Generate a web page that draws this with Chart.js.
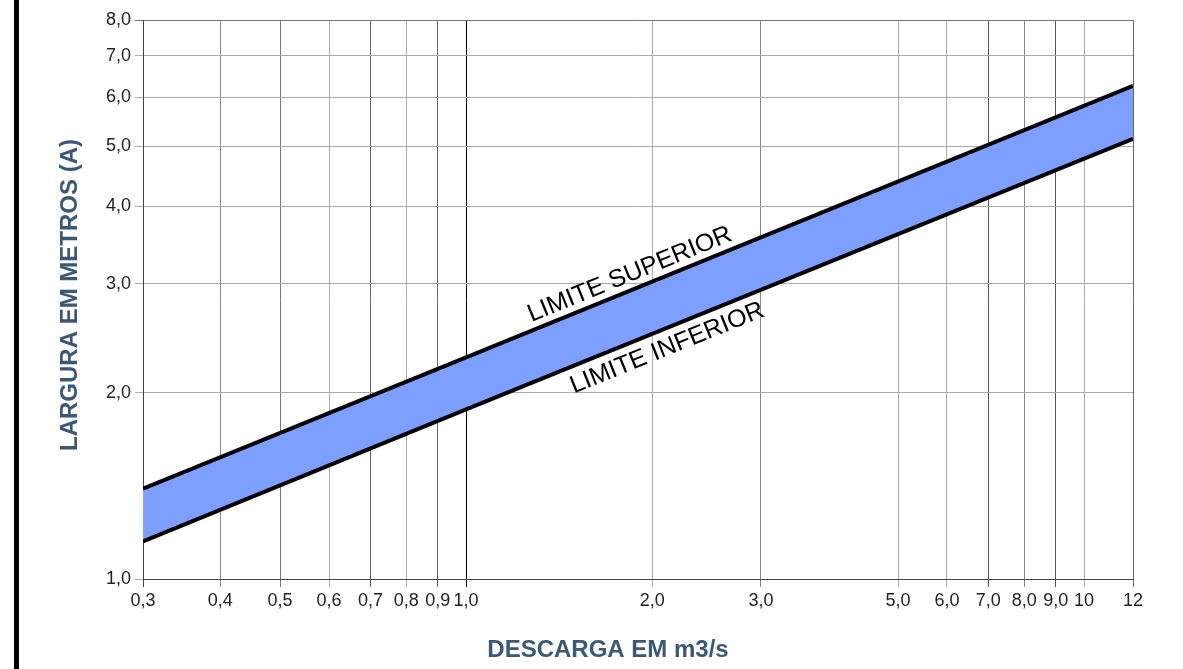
<!DOCTYPE html>
<html>
<head>
<meta charset="utf-8">
<script src="https://cdn.jsdelivr.net/npm/chart.js@4"></script>
<style>
  body { margin: 0; background: #fff; }
  #wrap { position: relative; width: 1183px; height: 669px; }
</style>
</head>
<body>
<div id="wrap"><canvas id="chart" width="1183" height="669"></canvas></div>
<script>
// data (log-log, straight lines)
const descarga = [0.3, 1.0, 12];
const limiteSuperior = [1.40, 2.28, 6.26];
const limiteInferior = [1.15, 1.88, 5.14];

const xTicks = [0.3, 0.4, 0.5, 0.6, 0.7, 0.8, 0.9, 1.0, 2, 3, 5, 6, 7, 8, 9, 10, 12];
const yTicks = [1, 2, 3, 4, 5, 6, 7, 8];

const xTitle = 'DESCARGA EM m3/s';
const yTitle = 'LARGURA EM METROS (A)';
const labelSup = 'LIMITE SUPERIOR';
const labelInf = 'LIMITE INFERIOR';

const FONT = '"Liberation Sans", Arial, sans-serif';

function fmt(v) {
  if (v >= 10) return String(Math.round(v));
  return v.toFixed(1).replace('.', ',');
}

// darker x grid lines like the original paper
const xGridDark = { 0.3: '#444', 0.4: '#888', 0.5: '#777', 0.7: '#666', 0.9: '#666', 1: '#000', 3: '#888', 7: '#555', 8: '#888', 9: '#555', 12: '#666' };

const extras = {
  id: 'extras',
  beforeDraw(chart) {
    const ctx = chart.ctx;
    ctx.save();
    ctx.fillStyle = '#000';
    ctx.fillRect(14, 0, 5, chart.height);
    ctx.restore();
  },
  afterDatasetsDraw(chart) {
    const ctx = chart.ctx;
    const xs = chart.scales.x, ys = chart.scales.y;

    function onLine(arr, xv) {
      // interpolate in log space between the read points
      for (let i = 0; i < descarga.length - 1; i++) {
        if (xv >= descarga[i] && xv <= descarga[i + 1]) {
          const t = (Math.log(xv) - Math.log(descarga[i])) / (Math.log(descarga[i + 1]) - Math.log(descarga[i]));
          return Math.exp(Math.log(arr[i]) + t * (Math.log(arr[i + 1]) - Math.log(arr[i])));
        }
      }
      return arr[arr.length - 1];
    }

    function drawLabel(text, arr, xv, offset) {
      const x1 = xs.getPixelForValue(descarga[1]), y1 = ys.getPixelForValue(arr[1]);
      const x2 = xs.getPixelForValue(descarga[2]), y2 = ys.getPixelForValue(arr[2]);
      const ang = Math.atan2(y2 - y1, x2 - x1);
      const px = xs.getPixelForValue(xv);
      const py = ys.getPixelForValue(onLine(arr, xv));
      ctx.save();
      ctx.translate(px, py);
      ctx.rotate(ang);
      ctx.font = '25px ' + FONT;
      ctx.fillStyle = '#000';
      ctx.textAlign = 'center';
      ctx.textBaseline = 'middle';
      ctx.fillText(text, 0, offset);
      ctx.restore();
    }

    drawLabel(labelSup, limiteSuperior, 1.88, -15);
    drawLabel(labelInf, limiteInferior, 2.06, 19);

    ctx.save();
    ctx.fillStyle = '#3b5878';
    ctx.font = 'bold 24px ' + FONT;
    ctx.textAlign = 'center';
    ctx.textBaseline = 'middle';
    ctx.fillText(xTitle, 608, 650);
    ctx.translate(70, 295);
    ctx.rotate(-Math.PI / 2);
    ctx.fillText(yTitle, 0, 0);
    ctx.restore();
  }
};

new Chart(document.getElementById('chart'), {
  type: 'line',
  data: {
    datasets: [
      {
        label: labelSup,
        data: descarga.map((x, i) => ({ x: x, y: limiteSuperior[i] })),
        borderColor: '#000',
        borderWidth: 4,
        pointRadius: 0,
        fill: false
      },
      {
        label: labelInf,
        data: descarga.map((x, i) => ({ x: x, y: limiteInferior[i] })),
        borderColor: '#000',
        borderWidth: 4,
        pointRadius: 0,
        fill: '-1',
        backgroundColor: '#7d9fff'
      }
    ]
  },
  options: {
    responsive: false,
    animation: false,
    layout: { padding: { top: 20, right: 50, left: 0, bottom: 0 } },
    plugins: {
      legend: { display: false },
      tooltip: { enabled: false }
    },
    scales: {
      x: {
        type: 'logarithmic',
        min: 0.3,
        max: 12,
        afterBuildTicks: s => { s.ticks = xTicks.map(v => ({ value: v })); },
        afterFit: s => { s.height = 90; },
        ticks: {
          autoSkip: false,
          maxRotation: 0,
          padding: 3,
          color: '#222',
          font: { family: FONT, size: 18 },
          callback: v => fmt(v)
        },
        grid: {
          color: c => xGridDark[c.tick && c.tick.value] || '#aaa',
          tickLength: 8,
          lineWidth: 1
        },
        border: { color: '#444', width: 1 }
      },
      y: {
        type: 'logarithmic',
        min: 1,
        max: 8,
        afterBuildTicks: s => { s.ticks = yTicks.map(v => ({ value: v })); },
        afterFit: s => { s.width = 143; },
        ticks: {
          autoSkip: false,
          padding: 4,
          color: '#222',
          font: { family: FONT, size: 18 },
          callback: v => fmt(v)
        },
        grid: {
          color: c => (c.tick && c.tick.value === 8) ? '#777' : '#aaa',
          tickLength: 8,
          lineWidth: 1
        },
        border: { color: '#444', width: 1 }
      }
    }
  },
  plugins: [extras]
});
</script>
</body>
</html>
